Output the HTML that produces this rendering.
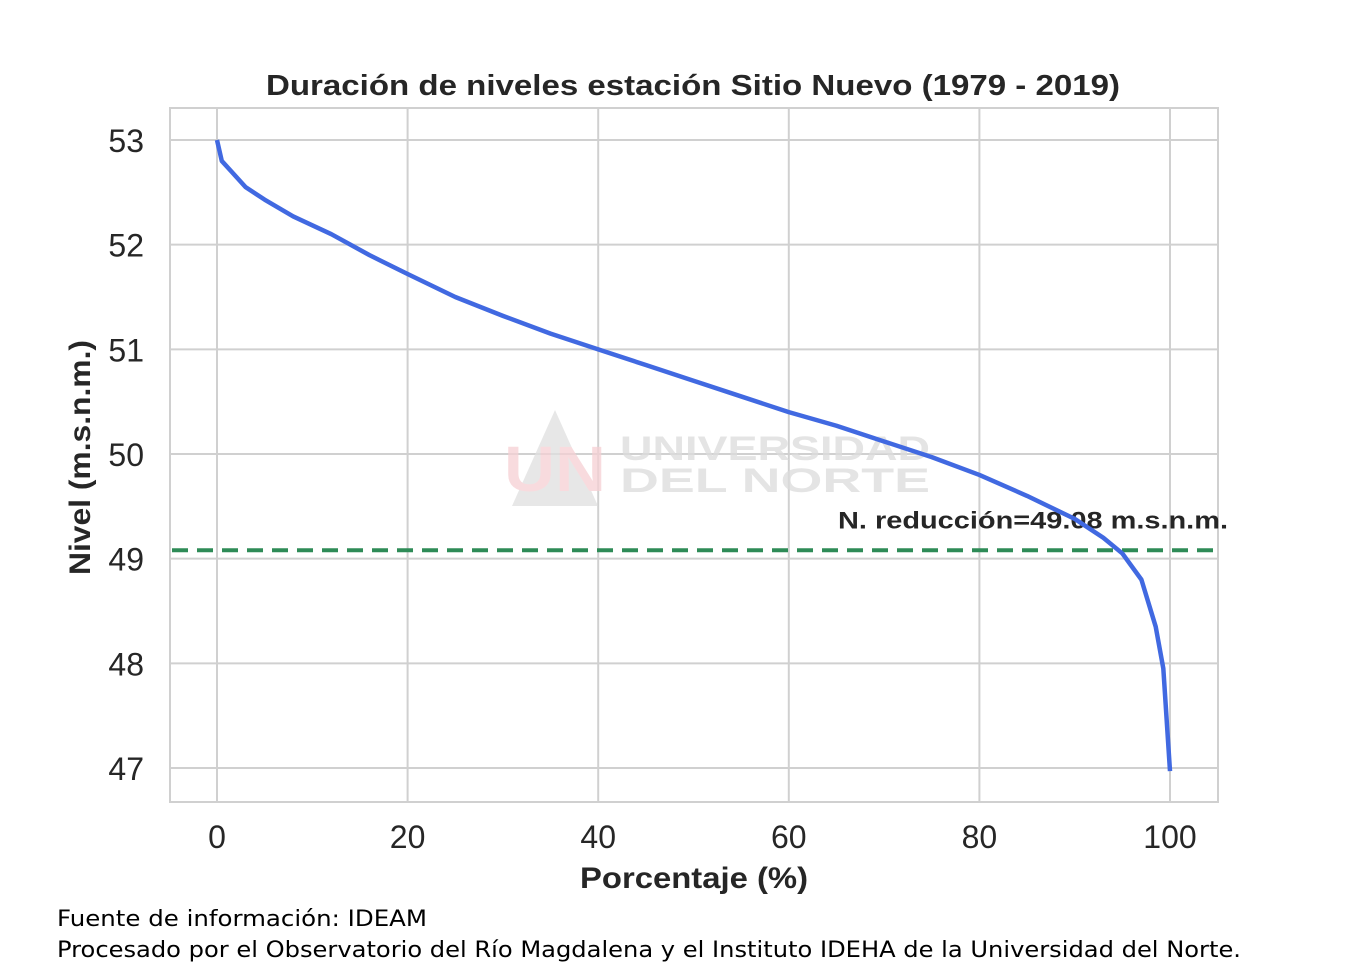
<!DOCTYPE html>
<html><head><meta charset="utf-8"><style>
body{margin:0;background:#fff;width:1353px;height:962px;overflow:hidden;font-family:"Liberation Sans",sans-serif}
</style></head><body>
<svg width="1353" height="962" xmlns="http://www.w3.org/2000/svg">
<g id="grid"></g>
<rect x="170" y="108" width="1048" height="694" fill="none" stroke="#d0d0d0" stroke-width="2"/>
<g opacity="0.75">
<polygon points="512,506 555,410 598,506" fill="#e0e0e0"/>
<text x="504" y="491" font-size="64" font-weight="bold" fill="#f6d0d4" textLength="102" lengthAdjust="spacingAndGlyphs">UN</text>
<text x="620" y="460" font-size="34" font-weight="bold" fill="#dcdcdc" textLength="310" lengthAdjust="spacingAndGlyphs">UNIVERSIDAD</text>
<text x="620" y="492" font-size="34" font-weight="bold" fill="#dcdcdc" textLength="310" lengthAdjust="spacingAndGlyphs">DEL   NORTE</text>
</g>
<g id="ticks"></g>
<line id="ref" stroke="#2e8b57" stroke-width="4" stroke-dasharray="16,9"/>
<text id="refLbl" x="838" font-size="24" font-weight="bold" fill="#262626" textLength="390" lengthAdjust="spacingAndGlyphs">N. reducción=49.08 m.s.n.m.</text>
<path id="curve" fill="none" stroke="#4169e1" stroke-width="4.5" stroke-linejoin="round"/>
<text x="266" y="95" font-size="29" font-weight="bold" fill="#262626" textLength="854" lengthAdjust="spacingAndGlyphs">Duración de niveles estación Sitio Nuevo (1979 - 2019)</text>
<text x="580" y="888" font-size="30" font-weight="bold" fill="#262626" textLength="228" lengthAdjust="spacingAndGlyphs">Porcentaje (%)</text>
<text transform="translate(90,575) rotate(-90)" font-size="30" font-weight="bold" fill="#262626" textLength="235" lengthAdjust="spacingAndGlyphs">Nivel (m.s.n.m.)</text>
<text x="57" y="926" font-size="22" fill="#000" font-family="DejaVu Sans,sans-serif" textLength="370" lengthAdjust="spacingAndGlyphs">Fuente de información: IDEAM</text>
<text x="57" y="957" font-size="22" fill="#000" font-family="DejaVu Sans,sans-serif" textLength="1184" lengthAdjust="spacingAndGlyphs">Procesado por el Observatorio del Río Magdalena y el Instituto IDEHA de la Universidad del Norte.</text>
</svg>
<script>
const xTicks=[0,20,40,60,80,100];
const yTicks=[47,48,49,50,51,52,53];
const pct=[0,0.5,1.5,3,5,8,12,16,20,25,30,35,40,45,50,55,60,65,70,75,80,85,90,93,95,97,98.5,99.3,100];
const level=[53.0,52.8,52.7,52.55,52.43,52.27,52.1,51.9,51.72,51.5,51.32,51.15,51.0,50.85,50.7,50.55,50.4,50.27,50.12,49.97,49.8,49.6,49.38,49.2,49.05,48.8,48.35,47.95,46.97];
const refLevel=49.08;
const X=v=>217+v*9.53, Y=v=>140+(53-v)*104.67;
const NS='http://www.w3.org/2000/svg';
const g=document.getElementById('grid'), t=document.getElementById('ticks');
function mk(p,tag,a){const e=document.createElementNS(NS,tag);for(const k in a)e.setAttribute(k,a[k]);p.appendChild(e);return e;}
xTicks.forEach(v=>{const l=mk(g,'line',{x1:X(v),x2:X(v),y1:108,y2:802,stroke:'#d0d0d0','stroke-width':2});


const s=mk(t,'text',{x:X(v),y:848,'font-size':32,fill:'#262626','text-anchor':'middle'});s.textContent=v;

});
yTicks.forEach(v=>{const l=mk(g,'line',{x1:170,x2:1218,y1:Y(v),y2:Y(v),stroke:'#d0d0d0','stroke-width':2});


const s=mk(t,'text',{x:144,y:Y(v)+12,'font-size':32,fill:'#262626','text-anchor':'end'});s.textContent=v;

});
const r=document.getElementById('ref');r.setAttribute('x1',172);r.setAttribute('x2',1218);r.setAttribute('y1',Y(refLevel));r.setAttribute('y2',Y(refLevel));
document.getElementById('refLbl').setAttribute('y',Y(refLevel)-22);
document.getElementById('curve').setAttribute('d',pct.map((p,i)=>(i?'L':'M')+X(p)+','+Y(level[i])).join(''));
</script>
</body></html>
